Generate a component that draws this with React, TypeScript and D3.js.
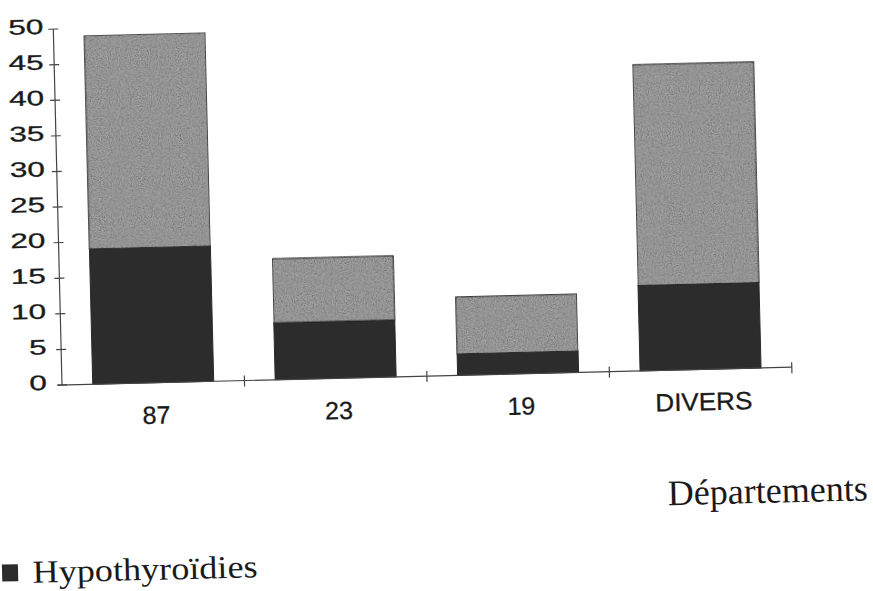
import React from "react";
import * as d3 from "d3";

// Départements and counts per département
const categories = ["87", "23", "19", "DIVERS"];
const hypothyroidies = [19, 8, 3, 12];
const autres = [30, 9, 8, 31];
const yTicks = [0, 5, 10, 15, 20, 25, 30, 35, 40, 45, 50];
const legendLabel = "Hypothyroïdies";
const axisTitle = "Départements";

const W = 873;
const H = 591;
const plotW = 730;
const plotH = 356;

export default function App() {
  const rows = categories.map((c, i) => ({
    cat: c,
    hypo: hypothyroidies[i],
    autres: autres[i],
  }));
  const stack = d3.stack<any>().keys(["hypo", "autres"]);
  const series = stack(rows);

  const x = d3
    .scaleBand<string>()
    .domain(categories)
    .range([0, plotW])
    .paddingInner(0.337)
    .paddingOuter(0.1685);
  const y = d3.scaleLinear().domain([0, 50]).range([0, -plotH]);
  const step = x.step();
  const fills = ["#2c2c2c", "#a2a2a2"];

  const sans = "'Liberation Sans', Arial, sans-serif";
  const serif = "'Liberation Serif', 'Times New Roman', serif";
  const ink = "#1a1a1a";

  return (
    <svg
      width={W}
      height={H}
      style={{ position: "absolute", left: 0, top: 0, background: "#fff" }}
    >
      <defs>
        <filter id="grain" x="0" y="0" width="100%" height="100%">
          <feTurbulence
            type="fractalNoise"
            baseFrequency="0.9"
            numOctaves="2"
            seed="4"
            result="noise"
          />
          <feColorMatrix
            in="noise"
            type="matrix"
            values="0 0 0 0 0  0 0 0 0 0  0 0 0 0 0  1.2 0 0 0 -0.42"
            result="dots"
          />
          <feComposite in="dots" in2="SourceGraphic" operator="in" result="clip" />
          <feMerge>
            <feMergeNode in="SourceGraphic" />
            <feMergeNode in="clip" />
          </feMerge>
        </filter>
      </defs>
      <g transform="translate(62,385) rotate(-1.4)">
        {/* stacked bars */}
        {series.map((s, si) =>
          s.map((d, i) => (
            <rect
              key={`${si}-${i}`}
              x={x(categories[i])}
              y={y(d[1])}
              width={x.bandwidth()}
              height={y(d[0]) - y(d[1])}
              fill={fills[si]}
              stroke="#2a2a2a"
              strokeWidth={1}
              filter={si === 1 ? "url(#grain)" : undefined}
            />
          ))
        )}

        {/* y axis */}
        <line x1={0} x2={0} y1={0} y2={y(50)} stroke="#444" strokeWidth={1.2} />
        {yTicks.map((t) => (
          <g key={t}>
            <line x1={-5} x2={5} y1={y(t)} y2={y(t)} stroke="#444" strokeWidth={1.2} />
            <text
              transform={`translate(${-15 + t * 0.1},${y(t) + 4.5}) scale(1.5,1)`}
              textAnchor="end"
              fontFamily={sans}
              fontSize={21}
              fill={ink}
              stroke={ink}
              strokeWidth={0.3}
            >
              {t}
            </text>
          </g>
        ))}

        {/* x axis */}
        <line x1={-4} x2={plotW} y1={0} y2={0} stroke="#444" strokeWidth={1.2} />
        {categories.map((c, i) => (
          <line
            key={c}
            x1={step * (i + 1)}
            x2={step * (i + 1)}
            y1={-5}
            y2={6}
            stroke="#444"
            strokeWidth={1.2}
          />
        ))}
        {categories.map((c) => (
          <text
            key={c}
            x={(x(c) as number) + x.bandwidth() / 2 + 2.5}
            y={41}
            textAnchor="middle"
            fontFamily={sans}
            fontSize={25}
            fill={ink}
            stroke={ink}
            strokeWidth={0.3}
            textLength={c === "DIVERS" ? 97 : undefined}
            lengthAdjust="spacingAndGlyphs"
          >
            {c}
          </text>
        ))}

        {/* axis title */}
        <text
          x={803}
          y={135}
          textAnchor="end"
          fontFamily={serif}
          fontSize={36}
          fill={ink}
          textLength={200}
          lengthAdjust="spacingAndGlyphs"
        >
          {axisTitle}
        </text>

        {/* legend */}
        <rect x={-64.5} y={178} width={16} height={17} fill={fills[0]} />
        <text
          x={-34}
          y={197}
          fontFamily={serif}
          fontSize={32}
          fill={ink}
          textLength={225}
          lengthAdjust="spacingAndGlyphs"
        >
          {legendLabel}
        </text>
      </g>
    </svg>
  );
}
